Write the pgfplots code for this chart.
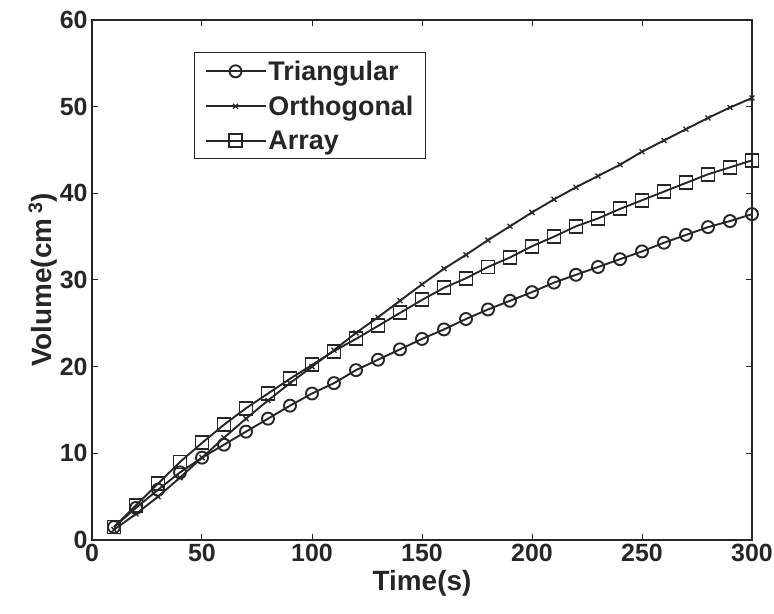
\documentclass[border=0pt]{standalone}
\usepackage{fontspec}
\setmainfont{Liberation Sans}
\usepackage{pgfplots}
\pgfplotsset{compat=1.18}
\pgfplotstableread{
t tri ort arr
10 1.5 1.2 1.5
20 3.7 3.0 4.0
30 5.8 5.0 6.5
40 7.8 7.2 9.0
50 9.5 9.5 11.2
60 11.0 11.8 13.3
70 12.5 14.0 15.2
80 14.0 16.1 16.9
90 15.5 18.1 18.6
100 16.9 20.0 20.2
110 18.1 21.9 21.8
120 19.6 23.9 23.2
130 20.8 25.7 24.7
140 22.0 27.6 26.2
150 23.2 29.5 27.7
160 24.3 31.3 29.1
170 25.5 32.9 30.2
180 26.6 34.6 31.5
190 27.6 36.2 32.6
200 28.6 37.8 33.9
210 29.7 39.3 35.0
220 30.6 40.7 36.2
230 31.5 42.0 37.1
240 32.4 43.3 38.2
250 33.3 44.8 39.2
260 34.3 46.1 40.2
270 35.2 47.4 41.2
280 36.1 48.7 42.2
290 36.8 49.9 43.0
300 37.6 51.0 43.8
}\data
\begin{document}
\begin{tikzpicture}
\begin{axis}[
  scale only axis,
  width=660bp, height=520bp,
  xmin=0, xmax=300, ymin=0, ymax=60,
  xtick={0,50,...,300}, ytick={0,10,...,60},
  tick align=inside, major tick length=6bp,
  axis line style={line width=1.2bp, black!85},
  tick style={line width=1bp, black!85},
  /pgf/number format/assume math mode=true,
  tick label style={font=\fontsize{25}{29}\selectfont\bfseries, text=black!85},
  xticklabel style={yshift=-1bp},
  yticklabel style={xshift=-1bp},
  xlabel={\fontsize{28}{32}\selectfont\bfseries Time(s)},
  ylabel={\fontsize{28}{32}\selectfont\bfseries Volume(cm\,\textsuperscript{3})},
  xlabel style={yshift=-1bp, text=black!85},
  ylabel style={yshift=-4bp, text=black!85},
  legend cell align=left,
  legend style={at={(0.1545,0.938)}, anchor=north west, draw=black!85, line width=1.2bp,
    font=\fontsize{27}{31}\selectfont\bfseries, text=black!85,
    inner xsep=10bp, inner ysep=6bp, row sep=10bp,
    /tikz/every even column/.append style={column sep=4bp}},
  legend image code/.code={%
    \draw[#1, line width=1.9bp, mark repeat=2, mark phase=2] plot coordinates {(0bp,0bp) (30bp,0bp) (60bp,0bp)};},
  every axis plot/.append style={line width=1.9bp, black!85},
]
\addplot[mark=o, mark size=6bp, mark options={line width=1.9bp}] table[x=t,y=tri] {\data};
\addlegendentry{Triangular}
\addplot[mark=x, mark size=3.5bp, mark options={line width=1.3bp}] table[x=t,y=ort] {\data};
\addlegendentry{Orthogonal}
\addplot[mark=square, mark size=6.5bp, mark options={line width=1.9bp}] table[x=t,y=arr] {\data};
\addlegendentry{Array}
\end{axis}
\pgfresetboundingbox
\path (current axis.south west) ++(-92bp,-74bp) rectangle ([shift={(22bp,20bp)}]current axis.north east);
\end{tikzpicture}
\end{document}
